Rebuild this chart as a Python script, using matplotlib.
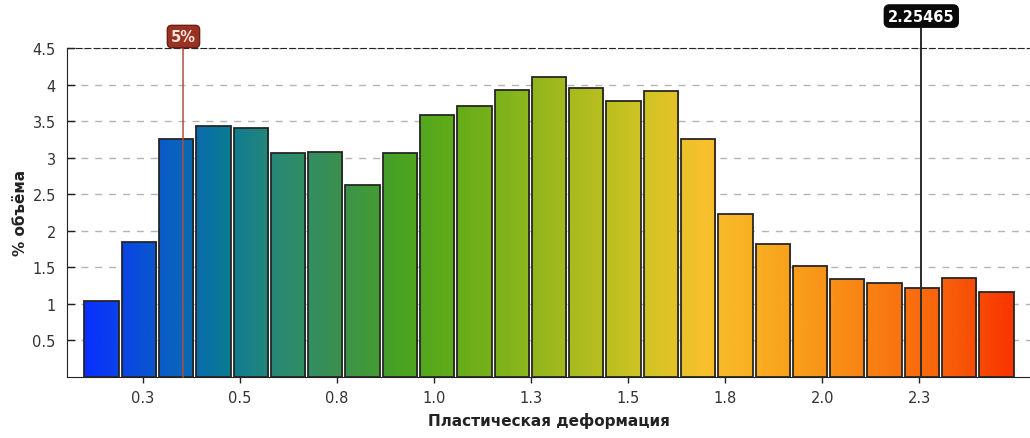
import numpy as np
import matplotlib
matplotlib.use("Agg")
import matplotlib.pyplot as plt
from matplotlib.colors import LinearSegmentedColormap

# Histogram of plastic strain: bin edges start and width, percent of volume per bin
bin_start = 0.10
bin_width = 0.096
volume_pct = [1.03, 1.85, 3.25, 3.44, 3.40, 3.06, 3.08, 2.63, 3.07, 3.58,
              3.71, 3.92, 4.10, 3.95, 3.78, 3.91, 3.25, 2.23, 1.81, 1.52,
              1.34, 1.28, 1.22, 1.345, 1.16]

x_ticks = [0.25, 0.5, 0.75, 1.0, 1.25, 1.5, 1.75, 2.0, 2.25]
x_tick_labels = ["0.3", "0.5", "0.8", "1.0", "1.3", "1.5", "1.8", "2.0", "2.3"]
y_ticks = [0.5, 1, 1.5, 2, 2.5, 3, 3.5, 4, 4.5]
y_tick_labels = ["0.5", "1", "1.5", "2", "2.5", "3", "3.5", "4", "4.5"]

# Markers: 5th percentile and the current probe value
p5_value = 0.355
p5_label = "5%"
probe_value = 2.25465
probe_label = "2.25465"

x_label = "Пластическая деформация"
y_label = "% объёма"

# Colour ramp along the strain axis
ramp_pos = [0.10, 0.30, 0.45, 0.60, 0.75, 0.90, 1.05, 1.30, 1.55, 1.70, 1.90, 2.10, 2.30, 2.50]
ramp_col = ["#0a30ff", "#0a5cc8", "#0a7898", "#2a8a72", "#3a9050", "#48a224", "#62ac18",
            "#9cb81e", "#d2c424", "#f8c02c", "#f8a41c", "#f88414", "#f8640c", "#f83400"]
lo, hi = ramp_pos[0], ramp_pos[-1]
cmap = LinearSegmentedColormap.from_list(
    "strain", [((p - lo) / (hi - lo), c) for p, c in zip(ramp_pos, ramp_col)])

plt.rcParams["font.family"] = ["DejaVu Sans"]

fig = plt.figure(figsize=(10.30, 4.39), dpi=100)
ax = fig.add_axes([0.065, 0.140, 0.935, 0.748])

lefts = bin_start + bin_width * np.arange(len(volume_pct))
bar_w = bin_width * 0.92
bars = ax.bar(lefts, volume_pct, width=bar_w, align="edge",
              facecolor="none", edgecolor="#262626", linewidth=1.3, zorder=3)

# Fill each bar with its slice of the colour ramp
for rect in bars:
    x0 = rect.get_x()
    x1 = x0 + rect.get_width()
    h = rect.get_height()
    grad = np.linspace(x0, x1, 32).reshape(1, -1)
    im = ax.imshow(grad, cmap=cmap, vmin=lo, vmax=hi, extent=[x0, x1, 0, h],
                   aspect="auto", interpolation="bilinear", zorder=2)
    im.set_clip_path(rect)

ax.set_xlim(0.055, 2.5345)
ax.set_ylim(0, 4.5)

ax.set_xticks(x_ticks)
ax.set_xticklabels(x_tick_labels)
ax.set_yticks(y_ticks)
ax.set_yticklabels(y_tick_labels)
ax.tick_params(axis="x", direction="out", length=4, width=1, labelsize=10.5,
               pad=6, colors="#222222")
ax.tick_params(axis="y", direction="in", length=6, width=1, labelsize=10.5,
               pad=8, colors="#222222")
for lab in ax.get_xticklabels() + ax.get_yticklabels():
    lab.set_color("#333333")

# Dashed horizontal grid behind the bars
ax.set_axisbelow(True)
ax.yaxis.grid(True, linestyle=(0, (5, 5)), color="#b4b4b4", linewidth=1)
ax.xaxis.grid(False)

ax.spines["right"].set_visible(False)
ax.spines["top"].set_linestyle((0, (5, 3)))
ax.spines["top"].set_color("#222222")
ax.spines["left"].set_color("#222222")
ax.spines["bottom"].set_color("#222222")

ax.set_xlabel(x_label, fontsize=11, fontweight="bold", labelpad=5, color="#222222")
ax.set_ylabel(y_label, fontsize=11, fontweight="bold", labelpad=3, color="#222222")

# Percentile marker line with its tag above the plot
ax.plot([p5_value, p5_value], [0, 4.66], color="#a85040", linewidth=1.1,
        clip_on=False, zorder=4)
ax.text(p5_value, 4.66, p5_label, ha="center", va="center", fontsize=10.5,
        color="#fbe6e0", fontweight="bold", zorder=6, clip_on=False,
        bbox=dict(boxstyle="round,pad=0.25,rounding_size=0.3",
                  facecolor="#9a3224", edgecolor="#6a1e14", linewidth=1))

# Probe marker line with its value tag
ax.plot([probe_value, probe_value], [0, 4.94], color="#2a2a2a", linewidth=1.4,
        clip_on=False, zorder=4)
ax.text(probe_value, 4.94, probe_label, ha="center", va="center", fontsize=10.5,
        color="white", fontweight="bold", zorder=6, clip_on=False,
        bbox=dict(boxstyle="round,pad=0.25,rounding_size=0.35",
                  facecolor="#0a0a0a", edgecolor="#0a0a0a", linewidth=1))

fig.savefig("out.png", dpi=100)
